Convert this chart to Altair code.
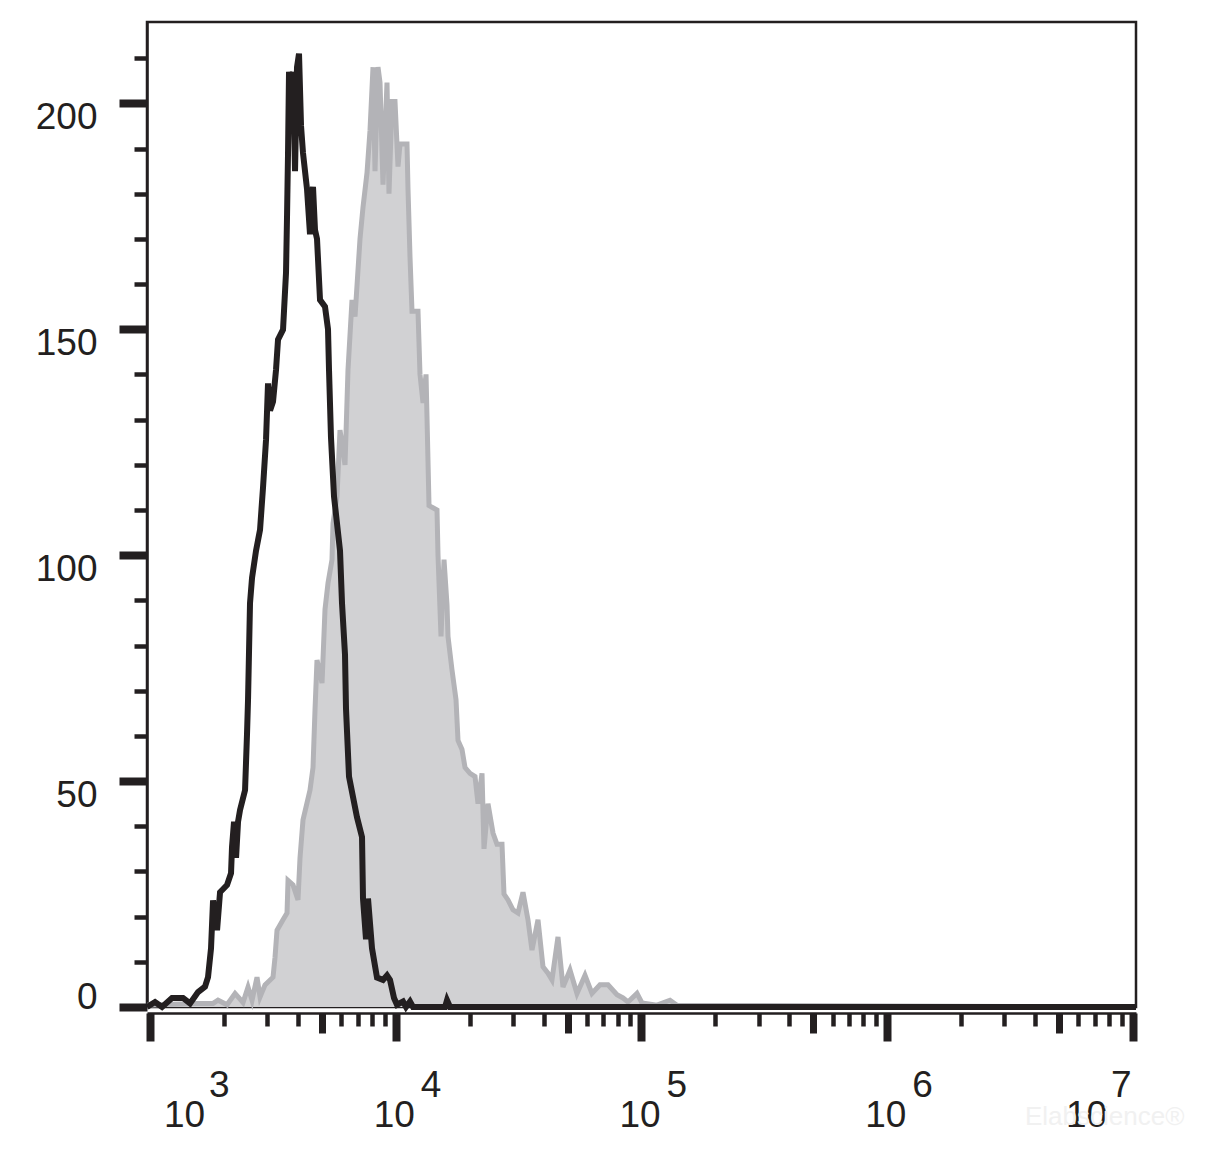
import altair as alt
import pandas as pd

# ---- data ----
# black (control) histogram: fluorescence value, count
black_x = [972, 1048, 1119, 1229, 1362, 1455, 1568, 1674, 1722, 1771, 1805, 1874, 1927,
           2058, 2136, 2156, 2197, 2239, 2281, 2324, 2436, 2482, 2505, 2552, 2601, 2700,
           2803, 2883, 2965, 3021, 3079, 3166, 3256, 3318, 3477, 3576, 3610, 3644, 3678,
           3747, 3818, 3891, 3964, 4039, 4116, 4193, 4354, 4478, 4562, 4605, 4692, 4781,
           4918, 5153, 5300, 5350, 5451, 5607, 5931, 6043, 6215, 6274, 6453, 6955, 7289,
           7357, 7567, 7710, 8004, 8388, 8873, 9212, 9475, 9837, 10118, 10703, 11008,
           11428, 11754, 15864, 16164, 16625, 10290000]
black_y = [0, 1.1, 0, 2, 2, 0.8, 3.3, 4.5, 6.6, 13, 23.6, 17, 25.4,
           27, 29.6, 35.4, 41, 33, 41, 43.6, 48, 60.6, 68, 89.4, 95, 101,
           105.6, 115, 125.5, 138, 132, 134, 141, 147.7, 149.9, 162.5, 175, 189, 207,
           195, 207, 185, 208, 211, 195, 189, 181, 171, 180, 181.5, 172, 170,
           156.5, 155, 150, 141, 126, 113, 101, 89.4, 78, 66, 51, 42, 37.6,
           24, 15, 24, 13, 6.5, 6, 7, 6, 2, 0.5, 1.2, 0,
           1.2, 0, 0, 1.5, 0, 0]

# gray (stained) histogram: fluorescence value, count
gray_x = [972, 1229, 1568, 1805, 1891, 2058, 2218, 2390, 2505, 2601, 2725, 2803, 2938,
          3166, 3226, 3287, 3477, 3610, 3644, 3818, 4001, 4077, 4193, 4478, 4605, 4692,
          4781, 5011, 5153, 5300, 5502, 5554, 5766, 5931, 6215, 6392, 6637, 6826, 7153,
          7357, 7638, 7856, 8080, 8233, 8467, 8628, 8873, 9212, 9386, 9654, 9930, 10213,
          10406, 11111, 11216, 11428, 11644, 12317, 12550, 12911, 13279, 13657, 14046,
          14719, 14857, 15281, 15716, 16164, 16316, 16939, 17587, 17920, 18604, 19134,
          20051, 21013, 21612, 22438, 22862, 23734, 24872, 25823, 27061, 27573, 28625,
          29997, 31434, 32941, 34520, 35842, 37915, 39732, 41636, 43226, 45728, 47921,
          51173, 54633, 58895, 62876, 67780, 73070, 79500, 84090, 88120, 95870, 100470,
          115630, 130630, 139470, 10290000]
gray_y = [0.4, 0.6, 0.8, 0.8, 1.5, 0.5, 3, 1, 4.4, 1.5, 6.6, 2.2, 4.9,
          6.6, 11, 17, 19.3, 20.8, 28, 27, 23.7, 33, 41.4, 48, 53, 65.7,
          76.8, 71.7, 88, 93.8, 99, 107, 113, 127.7, 120, 141, 156.5, 152.8, 170,
          177, 184.6, 194, 208, 185, 208, 204.6, 182, 204.6, 180, 200.4, 200.4, 186,
          191, 191, 181, 166, 154, 154, 140, 133.7, 140, 111, 110.6,
          110, 100, 82, 99, 89, 82, 74.6, 68, 59, 57, 53,
          51.7, 51, 45, 51.7, 35, 45, 38.5, 36, 36, 25, 23.7,
          21.5, 20.8, 25.4, 19.3, 12.6, 19.3, 8.9, 7.5, 6, 15.5, 4.4,
          8.2, 3, 7, 3, 4.9, 4.9, 2.7, 2, 1.1, 3, 0.9,
          0.4, 1.5, 0.4, 0]

# axis ticks / labels
y_tick_values = list(range(0, 220, 10))
x_decades = [3, 4, 5, 6, 7]
x_mantissas = [1, 2, 3, 4, 5, 6, 7, 8, 9]
x_label_base = "10"
x_label_exps = ["3", "4", "5", "6", "7"]
watermark = "Elabscience®"

x_tick_values = [m * 10 ** d for d in x_decades[:-1] for m in x_mantissas] + [10 ** x_decades[-1]]

W, H = 989, 985
INK = "#231f20"
FONT = "Liberation Sans"

black_df = pd.DataFrame({"x": black_x, "y": black_y})
gray_df = pd.DataFrame({"x": gray_x, "y": gray_y})
lab_df = pd.DataFrame({"v": [10 ** d for d in x_decades],
                       "base": [x_label_base] * len(x_decades),
                       "exp": x_label_exps})

xscale = alt.Scale(type="log", domain=[972, 10290000], nice=False)
yscale = alt.Scale(domain=[0, 218], nice=False, zero=True)

major_x = "abs(log(datum.value)/LN10 - round(log(datum.value)/LN10)) < 0.001"
five_x = "abs(log(datum.value/5)/LN10 - round(log(datum.value/5)/LN10)) < 0.001"

x_axis = alt.Axis(
    values=x_tick_values, labels=False, title=None, grid=False, offset=6,
    domainColor=INK, domainWidth=2.5, tickColor=INK,
    tickSize={"condition": [{"test": major_x, "value": 28}, {"test": five_x, "value": 20}], "value": 13},
    tickWidth={"condition": [{"test": major_x, "value": 8}, {"test": five_x, "value": 7}], "value": 4.5},
)
y_axis = alt.Axis(
    values=y_tick_values, title=None, grid=False,
    domainColor=INK, domainWidth=2.5, tickColor=INK,
    tickSize={"condition": {"test": "datum.value % 50 == 0", "value": 28}, "value": 13},
    tickWidth={"condition": {"test": "datum.value % 50 == 0", "value": 8}, "value": 4.5},
    labelExpr="datum.value % 50 == 0 ? datum.label : ''",
    labelFont=FONT, labelFontSize=37, labelColor=INK, labelPadding=22,
    labelOffset={"condition": {"test": "datum.value == 0", "value": -10}, "value": 14},
)

base_gray = alt.Chart(gray_df)
gray_area = base_gray.mark_area(color="#d1d1d3", clip=False, interpolate="linear").encode(
    x=alt.X("x:Q", scale=xscale, axis=x_axis),
    y=alt.Y("y:Q", scale=yscale, axis=y_axis, stack=None),
)
gray_line = base_gray.mark_line(color="#b3b3b7", strokeWidth=5, clip=False, strokeJoin="miter").encode(
    x=alt.X("x:Q", scale=xscale), y=alt.Y("y:Q", scale=yscale)
)
black_line = alt.Chart(black_df).mark_line(color=INK, strokeWidth=6, clip=False, strokeCap="butt").encode(
    x=alt.X("x:Q", scale=xscale), y=alt.Y("y:Q", scale=yscale)
)

def labels(df, dx_base, dx_exp):
    b = alt.Chart(df).mark_text(align="left", baseline="alphabetic", font=FONT, fontSize=37,
                                color=INK, dx=dx_base).encode(
        x=alt.X("v:Q", scale=xscale), y=alt.value(H + 120), text="base:N")
    e = alt.Chart(df).mark_text(align="left", baseline="alphabetic", font=FONT, fontSize=37,
                                color=INK, dx=dx_exp).encode(
        x=alt.X("v:Q", scale=xscale), y=alt.value(H + 90), text="exp:N")
    return [b, e]

txt = []
txt += labels(lab_df.iloc[[0]], 14, 59)
txt += labels(lab_df.iloc[1:4], -22, 25)
txt += labels(lab_df.iloc[[4]], -67, -22)

wm = alt.Chart(pd.DataFrame({"t": [watermark]})).mark_text(
    align="left", baseline="alphabetic", font=FONT, fontSize=26, color="#f1f1f1"
).encode(x=alt.value(878), y=alt.value(H + 118), text="t:N")

chart = alt.layer(gray_area, gray_line, black_line, *txt, wm).properties(
    width=W, height=H,
    background="white",
    autosize=alt.AutoSizeParams(type="none"),
    padding={"left": 139, "top": 14, "right": 60, "bottom": 150},
).configure_view(stroke=INK, strokeWidth=2.5)

chart.save("out.html", embed_options={"renderer": "svg", "actions": False})
